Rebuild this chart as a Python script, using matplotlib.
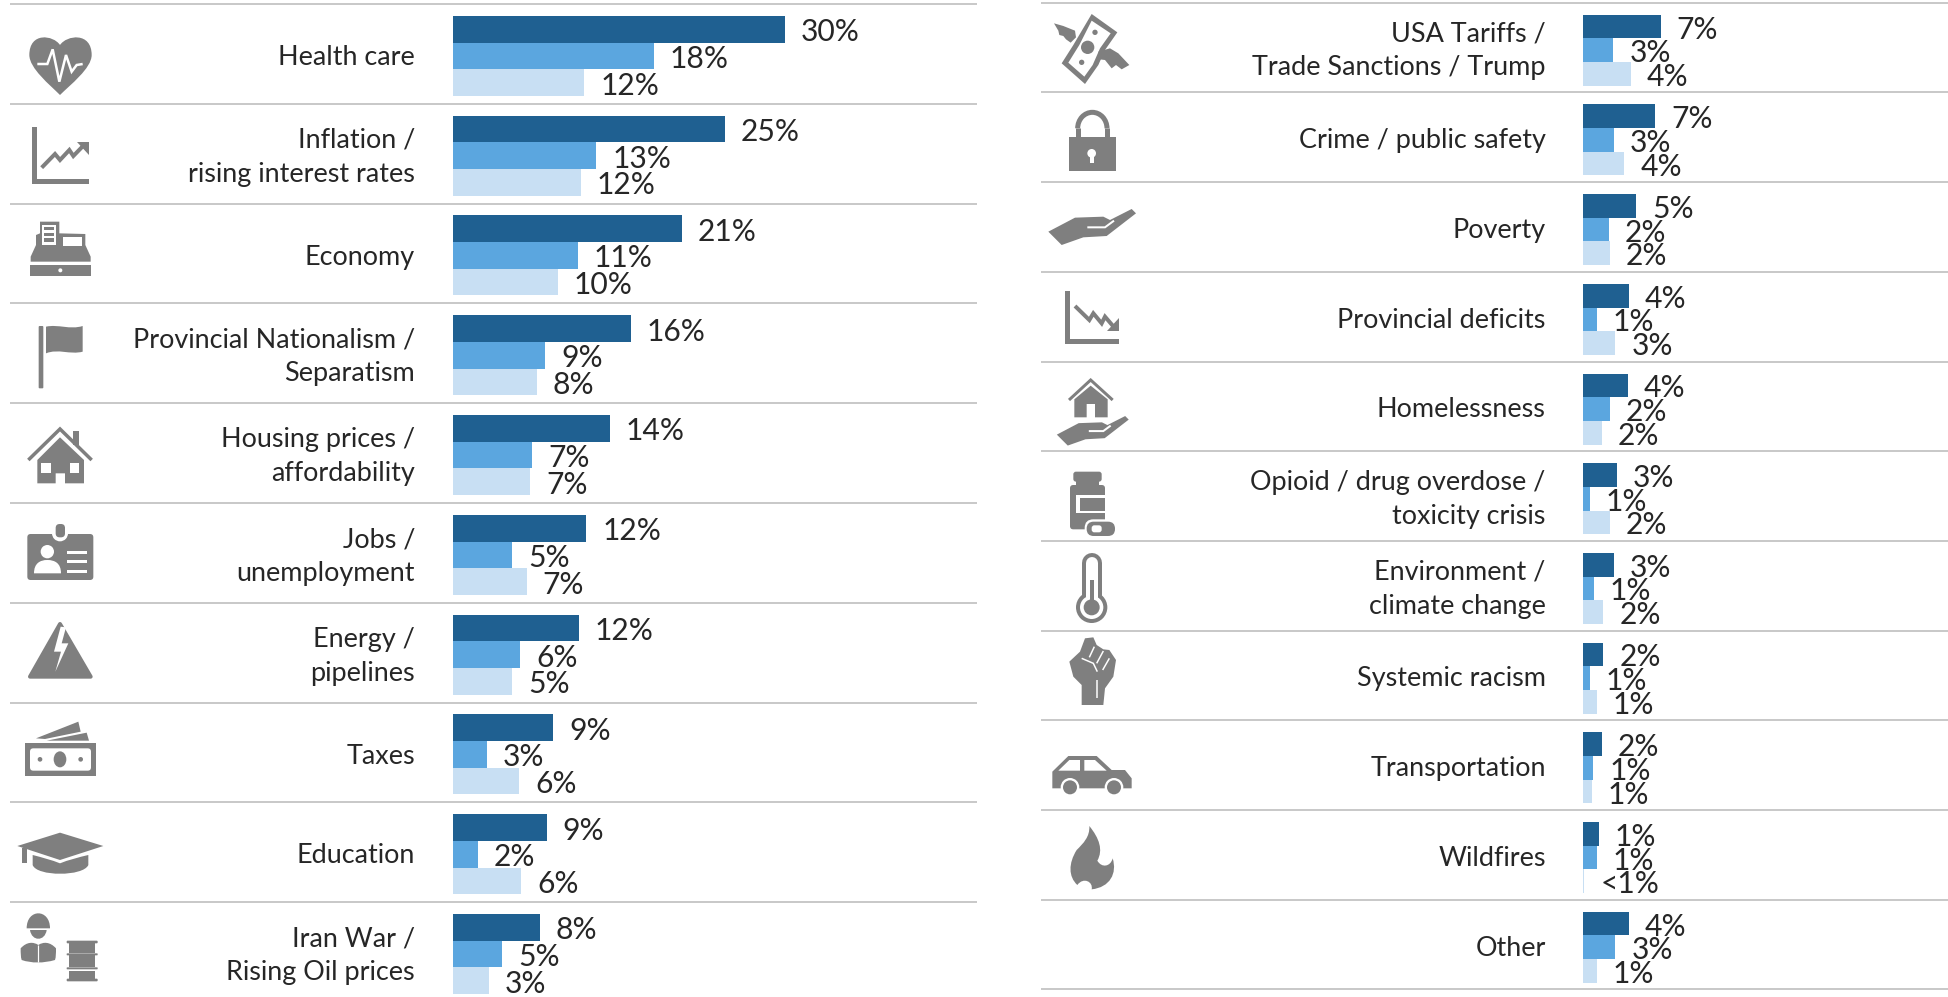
import matplotlib
matplotlib.use('Agg')
import matplotlib.pyplot as plt
from matplotlib.patches import Polygon, Circle, Ellipse, PathPatch, FancyBboxPatch, Arc
from matplotlib.path import Path

W, H = 1948, 997
GREY = '#7f7f7f'
COLORS = ['#1f6091', '#5ba6df', '#c8dff3']

left_names = ['Health care', 'Inflation /\nrising interest rates', 'Economy',
              'Provincial Nationalism /\nSeparatism', 'Housing prices /\naffordability',
              'Jobs /\nunemployment', 'Energy /\npipelines', 'Taxes', 'Education',
              'Iran War /\nRising Oil prices']
left_a = [30.0, 24.6, 20.7, 16.1, 14.2, 12.1, 11.4, 9.1, 8.5, 7.9]
left_b = [18.2, 13.0, 11.3, 8.4, 7.2, 5.4, 6.1, 3.1, 2.3, 4.5]
left_c = [11.9, 11.6, 9.5, 7.6, 7.0, 6.7, 5.4, 6.0, 6.2, 3.3]
left_a_txt = ['30%', '25%', '21%', '16%', '14%', '12%', '12%', '9%', '9%', '8%']
left_b_txt = ['18%', '13%', '11%', '9%', '7%', '5%', '6%', '3%', '2%', '5%']
left_c_txt = ['12%', '12%', '10%', '8%', '7%', '7%', '5%', '6%', '6%', '3%']

right_names = ['USA Tariffs /\nTrade Sanctions / Trump', 'Crime / public safety', 'Poverty',
               'Provincial deficits', 'Homelessness', 'Opioid / drug overdose /\ntoxicity crisis',
               'Environment /\nclimate change', 'Systemic racism', 'Transportation',
               'Wildfires', 'Other']
right_a = [7.0, 6.5, 4.8, 4.1, 4.0, 3.0, 2.75, 1.8, 1.65, 1.4, 4.1]
right_b = [2.7, 2.75, 2.3, 1.2, 2.4, 0.6, 0.95, 0.6, 0.9, 1.2, 2.9]
right_c = [4.3, 3.7, 2.4, 2.9, 1.7, 2.4, 1.8, 1.2, 0.75, 0.1, 1.2]
right_a_txt = ['7%', '7%', '5%', '4%', '4%', '3%', '3%', '2%', '2%', '1%', '4%']
right_b_txt = ['3%', '3%', '2%', '1%', '2%', '1%', '1%', '1%', '1%', '1%', '3%']
right_c_txt = ['4%', '4%', '2%', '3%', '2%', '2%', '2%', '1%', '1%', '<1%', '1%']

plt.rcParams['font.family'] = ['Lato', 'DejaVu Sans']
PX = 72 / 100  # points per pixel at dpi 100


def panel(fig, x0, x1, y0, pitch, zero, names, a, b, c, a_txt, b_txt, c_txt, bar_h, shift):
    n = len(names)
    ax = fig.add_axes([x0 / W, 1 - (y0 + pitch * n) / H, (x1 - x0) / W, pitch * n / H])
    scale = 11.07  # px per percent
    ax.set_xlim((x0 - zero) / scale, (x1 - zero) / scale)
    ax.set_ylim(n, 0)
    ax.axis('off')
    for j in range(n + 1):
        ax.axhline(j, color='#c9c9c9', lw=2 * PX, clip_on=False)
    for k, (vals, txts) in enumerate(zip([a, b, c], [a_txt, b_txt, c_txt])):
        ys = [i + shift + (k - 1) * bar_h for i in range(n)]
        ax.barh(ys, vals, height=bar_h, color=COLORS[k], linewidth=0)
        for y, v, t in zip(ys, vals, txts):
            ax.annotate(t, (v, y), xytext=(16 * PX, -3 * PX), textcoords='offset points',
                        va='center', ha='left', fontsize=30 * PX, color='#262626')
    for i, name in enumerate(names):
        ax.annotate(name, (0, i + 0.5), xytext=(-37.5 * PX, -3.5 * PX), textcoords='offset points',
                    va='center', ha='right', multialignment='right', fontsize=27 * PX,
                    color='#262626', linespacing=1.43)
    return ax


fig = plt.figure(figsize=(W / 100, H / 100), dpi=100)
panel(fig, 10.7, 976, 4, 99.8, 452.5, left_names, left_a, left_b, left_c,
      left_a_txt, left_b_txt, left_c_txt, 80 / 99.8 / 3, 0.52)
panel(fig, 1042, 1948, 2.7, 89.7, 1583.3, right_names, right_a, right_b, right_c,
      right_a_txt, right_b_txt, right_c_txt, 71 / 89.7 / 3, 0.53)

# icons, drawn in figure pixels
ic = fig.add_axes([0, 0, 1, 1], zorder=5)
ic.set_xlim(0, W)
ic.set_ylim(H, 0)
ic.axis('off')
ox, oy = 10, 0
z = [10]


def nz():
    z[0] += 1
    return z[0]


def at(p):
    return (ox + p[0] / 3, oy + p[1] / 3)


def poly(pts, c=GREY):
    ic.add_patch(Polygon([at(p) for p in pts], closed=True, fc=c, ec='none', zorder=nz()))


def rect(x0, y0, x1, y1, c=GREY):
    poly([(x0, y0), (x1, y0), (x1, y1), (x0, y1)], c)


def rrect(x0, y0, x1, y1, r, c=GREY):
    a0 = at((x0, y0))
    a1 = at((x1, y1))
    r = r / 3
    ic.add_patch(FancyBboxPatch((a0[0] + r, a0[1] + r), a1[0] - a0[0] - 2 * r, a1[1] - a0[1] - 2 * r,
                                boxstyle='round,pad=%f,rounding_size=%f' % (r, r), fc=c, ec='none',
                                zorder=nz()))


def circ(x, y, r, c=GREY):
    ic.add_patch(Circle(at((x, y)), r / 3, fc=c, ec='none', zorder=nz()))


def ell(x, y, w, h, c=GREY):
    ic.add_patch(Ellipse(at((x, y)), w / 3, h / 3, fc=c, ec='none', zorder=nz()))


def line(pts, w, c=GREY, cap='butt'):
    xy = [at(p) for p in pts]
    ic.plot([p[0] for p in xy], [p[1] for p in xy], color=c, lw=w * PX, solid_capstyle=cap,
            solid_joinstyle='miter', zorder=nz())


def curve(start, segs, c=GREY):
    verts = [at(start)]
    codes = [Path.MOVETO]
    for s in segs:
        verts += [at(s[0]), at(s[1]), at(s[2])]
        codes += [Path.CURVE4] * 3
    verts.append(at(start))
    codes.append(Path.CLOSEPOLY)
    ic.add_patch(PathPatch(Path(verts, codes), fc=c, ec='none', zorder=nz()))


# left column, upper half
ox, oy = 10, 0
curve((150, 135), [((130, 105), (58, 95), (58, 165)), ((58, 205), (120, 255), (150, 285)),
                   ((180, 255), (245, 205), (245, 165)), ((245, 95), (170, 105), (150, 135))])
line([(82, 192), (112, 192), (128, 148), (148, 245), (168, 165), (185, 215), (200, 195), (218, 192)], 2.5, 'white')

rect(66, 380, 80, 552)
rect(66, 538, 237, 552)
line([(95, 503), (135, 462), (150, 480), (178, 450), (190, 468), (222, 435)], 4)
poly([(200, 425), (237, 425), (237, 465)])

poly([(62, 770), (62, 785), (242, 785), (242, 770), (226, 735), (226, 702), (148, 700), (148, 665),
      (90, 665), (90, 700), (78, 705), (78, 735)])
rect(97, 675, 137, 735, 'white')
rect(103, 681, 131, 690)
rect(103, 698, 131, 708)
rect(103, 715, 131, 726)
rect(160, 712, 215, 738, 'white')
rect(60, 795, 242, 827)
circ(151, 811, 6, 'white')

rrect(86, 978, 100, 1165, 3)
curve((108, 980), [((145, 972), (180, 990), (218, 978)), ((218, 1000), (218, 1030), (218, 1055)),
                   ((180, 1065), (145, 1045), (108, 1060)), ((108, 1030), (108, 1000), (108, 980))])

rect(190, 1293, 207, 1335)
line([(55, 1380), (150, 1287), (245, 1380)], 3.5)
poly([(82, 1380), (150, 1312), (222, 1380), (222, 1450), (165, 1450), (165, 1420), (137, 1420),
      (137, 1450), (82, 1450)])
rect(93, 1390, 122, 1420, 'white')
rect(180, 1390, 208, 1420, 'white')

# left column, lower half
ox, oy = 10, 500
rrect(52, 102, 250, 240, 10)
circ(150, 100, 24, 'white')
rrect(137, 72, 165, 112, 12)
circ(112, 155, 20, 'white')
curve((72, 220), [((72, 190), (90, 180), (112, 180)), ((135, 180), (153, 190), (153, 220)),
                  ((130, 220), (95, 220), (72, 220))], 'white')
rect(172, 152, 230, 162, 'white')
rect(172, 180, 230, 190, 'white')
rect(172, 210, 230, 220, 'white')

ic.add_patch(Polygon([at(p) for p in [(150, 372), (242, 530), (60, 530)]], closed=True, fc=GREY,
                     ec=GREY, lw=4 * PX, joinstyle='round', zorder=nz()))
poly([(152, 380), (132, 455), (153, 455), (136, 515), (175, 430), (155, 430), (168, 382)], 'white')

poly([(78, 715), (205, 665), (212, 695), (105, 717)])
poly([(110, 722), (230, 698), (237, 722)])
rect(45, 730, 258, 827)
rrect(60, 745, 243, 812, 10, 'white')
ell(150, 778, 38, 48)
circ(90, 778, 7)
circ(212, 778, 7)

poly([(22, 1038), (150, 998), (280, 1038), (150, 1080)])
rect(37, 1045, 50, 1090)
curve((68, 1065), [((95, 1072), (125, 1080), (150, 1090)), ((175, 1080), (205, 1072), (235, 1065)),
                   ((235, 1075), (235, 1085), (235, 1095)), ((220, 1130), (80, 1130), (68, 1095)),
                   ((68, 1085), (68, 1075), (68, 1065))])

curve((50, 1285), [((50, 1225), (120, 1225), (120, 1285)), ((100, 1285), (70, 1285), (50, 1285))])
curve((60, 1290), [((65, 1325), (105, 1325), (110, 1290)), ((95, 1290), (75, 1290), (60, 1290))])
curve((32, 1345), [((50, 1325), (70, 1325), (85, 1335)), ((100, 1325), (120, 1325), (138, 1345)),
                   ((138, 1360), (138, 1370), (135, 1380)), ((100, 1390), (65, 1390), (35, 1380)),
                   ((32, 1370), (32, 1360), (32, 1345))])
line([(85, 1335), (85, 1385)], 1.2, 'white')
rrect(170, 1322, 263, 1330, 3)
rect(177, 1330, 256, 1360)
rrect(170, 1360, 263, 1366, 2)
rect(177, 1366, 256, 1402)
rrect(170, 1402, 263, 1408, 2)
rect(177, 1412, 256, 1438)
rrect(170, 1436, 263, 1444, 3)

# right column, upper part
ox, oy = 1040, 0
poly([(155, 42), (232, 97), (195, 150), (175, 195), (135, 252), (65, 190), (100, 135)])
poly([(155, 62), (212, 100), (180, 145), (158, 195), (133, 230), (85, 188), (118, 135)], 'white')
circ(143, 142, 20)
circ(165, 97, 8)
circ(125, 187, 8)
poly([(42, 70), (70, 78), (105, 92), (108, 112), (92, 128), (78, 118), (70, 108), (58, 105), (55, 92)])
poly([(175, 155), (210, 145), (235, 160), (268, 195), (245, 208), (228, 195), (215, 205), (195, 180), (178, 178)])

line([(113, 415), (113, 385)], 5)
line([(201, 415), (201, 385)], 5)
ic.add_patch(Arc(at((157, 385)), 88 / 3, 96 / 3, theta1=180, theta2=360, color=GREY, lw=5 * PX, zorder=nz()))
rect(87, 412, 227, 512)
circ(155, 460, 13, 'white')
rect(150, 465, 161, 490, 'white')


def hand(dx, dy, k):
    pts = [(25, 695), (105, 653), (190, 650), (210, 660), (275, 627), (288, 640), (200, 708),
           (130, 712), (65, 735)]
    poly([(dx + x * k, dy + y * k) for x, y in pts])
    line([(dx + 142 * k, dy + 682 * k), (dx + 195 * k, dy + 682 * k), (dx + 222 * k, dy + 662 * k)], 2, 'white')


hand(0, 0, 1)

rect(76, 873, 90, 1033)
rect(76, 1018, 237, 1033)
line([(105, 918), (148, 960), (160, 940), (185, 970), (195, 950), (225, 985)], 4)
poly([(200, 993), (237, 993), (237, 955)])

line([(87, 1200), (152, 1140), (218, 1200)], 3)
poly([(103, 1198), (152, 1157), (203, 1198), (203, 1252), (165, 1252), (165, 1212), (140, 1212),
      (140, 1252), (103, 1252)])
hand(30, 734, 0.82)

# right column, lower part
ox, oy = 1040, 450
rrect(100, 65, 185, 95, 8)
rect(108, 92, 178, 105)
rrect(90, 105, 195, 238, 10)
rect(108, 135, 195, 190, 'white')
rect(120, 143, 195, 182)
rrect(134, 208, 232, 264, 26, 'white')
rrect(140, 215, 225, 258, 21)
rrect(155, 226, 185, 247, 8, 'white')

line([(155, 340), (155, 470)], 20, cap='round')
circ(155, 472, 47)
line([(155, 340), (155, 470)], 12, 'white', cap='round')
circ(155, 472, 35, 'white')
circ(155, 472, 24)
rect(150, 390, 161, 470)

poly([(125, 765), (125, 705), (100, 680), (88, 635), (120, 605), (135, 565), (160, 562), (170, 585),
      (190, 598), (208, 600), (228, 630), (220, 680), (195, 715), (190, 765)])
line([(163, 590), (148, 622)], 1.5, 'white')
line([(190, 603), (170, 640)], 1.5, 'white')
line([(208, 625), (188, 660)], 1.5, 'white')
line([(125, 625), (160, 640), (172, 665)], 1.5, 'white')
line([(172, 690), (172, 745)], 1.5, 'white')

poly([(37, 1015), (37, 965), (85, 918), (170, 918), (215, 960), (255, 960), (275, 985), (275, 1015)])
poly([(55, 962), (88, 930), (120, 930), (120, 962)], 'white')
poly([(133, 930), (165, 930), (200, 962), (133, 962)], 'white')
circ(90, 1012, 28, 'white')
circ(90, 1012, 21)
circ(222, 1012, 28, 'white')
circ(222, 1012, 21)

curve((148, 1128), [((178, 1165), (190, 1200), (172, 1232)), ((185, 1255), (212, 1250), (218, 1225)),
                    ((232, 1270), (210, 1312), (155, 1318)), ((160, 1295), (130, 1280), (112, 1305)),
                    ((85, 1280), (85, 1240), (110, 1200)), ((130, 1180), (150, 1160), (148, 1128))])

fig.savefig('out.png', dpi=100)
